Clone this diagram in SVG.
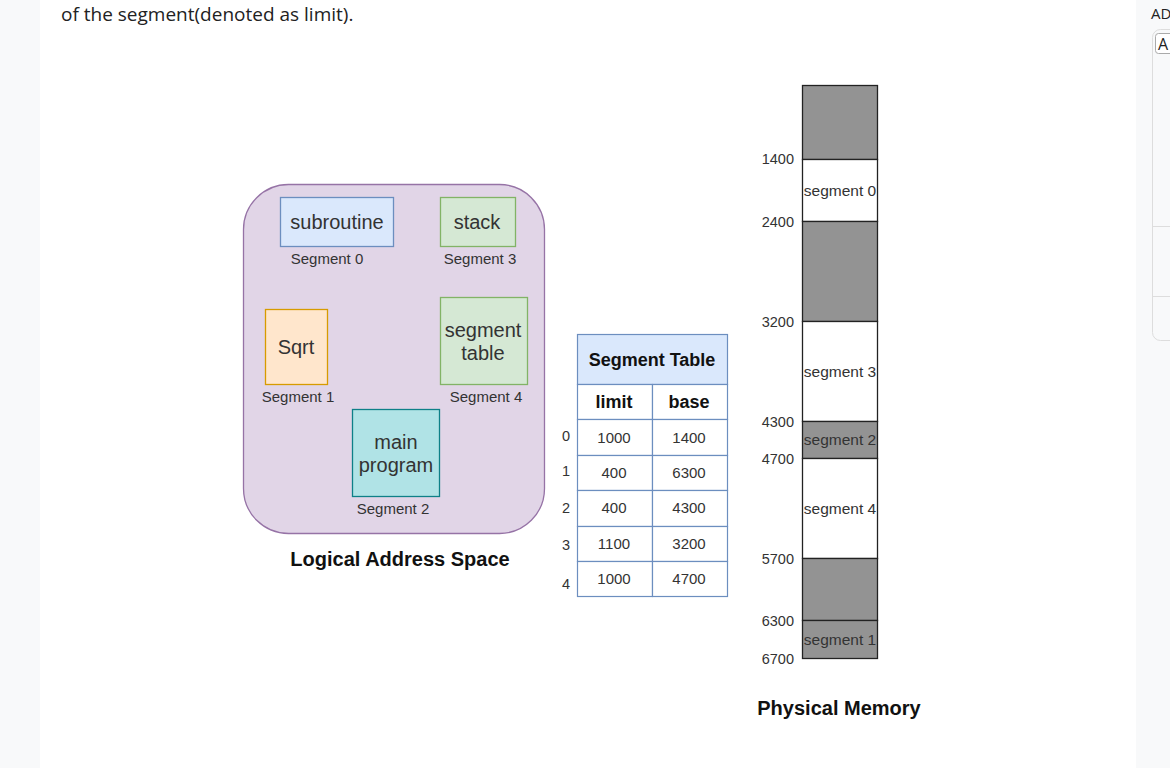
<svg xmlns="http://www.w3.org/2000/svg" width="1170" height="768" viewBox="0 0 1170 768">
<style>
.t{font-family:"Liberation Sans",Arial,sans-serif;fill:#222;}
.lbl{font-size:15px;text-anchor:middle;fill:#333;}
.box{font-size:20px;text-anchor:middle;fill:#333;}
.small{font-size:14.5px;fill:#333;}
.cell{font-size:15px;text-anchor:middle;fill:#333;}
.hdr{font-size:18px;font-weight:bold;text-anchor:middle;fill:#111;}
.big{font-size:20px;}
.mem{stroke:#222;stroke-width:1.3;}
.g{fill:#939393;}
.w{fill:#ffffff;}
.ml{font-size:14.5px;text-anchor:end;fill:#333;}
.mt{font-size:15.5px;text-anchor:middle;fill:#333;}
.tc{fill:#fff;stroke:#6c8ebf;stroke-width:1.2;}
</style>
<rect x="0" y="0" width="1170" height="768" fill="#f8f9fa"/>
<rect x="40" y="0" width="1096" height="768" fill="#ffffff"/>
<text class="t" x="61" y="21" font-size="19" style="font-family:'Open Sans','Noto Sans',sans-serif" fill="#212529">of the segment(denoted as limit).</text>
<text class="t" x="1151" y="19" font-size="15" fill="#999" style="font-family:'Open Sans','Noto Sans',sans-serif">AD</text>
<rect x="1152.5" y="29.5" width="30" height="311" rx="8" fill="#f8f9fa" stroke="#ddd"/>
<line x1="1152" y1="226.5" x2="1170" y2="226.5" stroke="#ddd"/>
<line x1="1152" y1="296.5" x2="1170" y2="296.5" stroke="#ddd"/>
<rect x="1155.5" y="33.5" width="20" height="20" rx="3" fill="#fff" stroke="#aaa"/>
<text x="1158" y="50" font-size="16" font-family="Open Sans, sans-serif" fill="#222">A</text>

<g id="logical">
<rect x="243.5" y="184.5" width="301" height="349" rx="45" fill="#e1d5e7" stroke="#9673a6" stroke-width="1.3"/>
<text class="t hdr big" x="400" y="566">Logical Address Space</text>
</g>
<g id="subroutine">
<rect x="280.5" y="197.5" width="113" height="49" fill="#dae8fc" stroke="#6c8ebf" stroke-width="1.3"/>
<text class="t box" x="337" y="229">subroutine</text>
<text class="t lbl" x="327" y="264">Segment 0</text>
</g>
<g id="stack">
<rect x="440.5" y="197.5" width="75" height="49" fill="#d5e8d4" stroke="#82b366" stroke-width="1.3"/>
<text class="t box" x="477" y="229">stack</text>
<text class="t lbl" x="480" y="264">Segment 3</text>
</g>
<g id="sqrt">
<rect x="265.5" y="309.5" width="62" height="75" fill="#ffe6cc" stroke="#d79b00" stroke-width="1.3"/>
<text class="t box" x="296" y="354">Sqrt</text>
<text class="t lbl" x="298" y="402">Segment 1</text>
</g>
<g id="segtable-seg">
<rect x="440.5" y="297.5" width="87" height="87" fill="#d5e8d4" stroke="#82b366" stroke-width="1.3"/>
<text class="t box" x="483" y="337">segment</text>
<text class="t box" x="483" y="360">table</text>
<text class="t lbl" x="486" y="402">Segment 4</text>
</g>
<g id="main">
<rect x="352.5" y="409.5" width="87" height="87" fill="#b0e3e6" stroke="#0e8088" stroke-width="1.3"/>
<text class="t box" x="396" y="449">main</text>
<text class="t box" x="396" y="472">program</text>
<text class="t lbl" x="393" y="514">Segment 2</text>
</g>

<g id="segment-table">
<rect x="577.5" y="334.5" width="150" height="50" fill="#dae8fc" stroke="#6c8ebf" stroke-width="1.2"/>
<text class="t hdr" x="652" y="366" font-size="17.5">Segment Table</text>
<rect class="tc" x="577.5" y="384.5" width="75" height="35"/>
<rect class="tc" x="652.5" y="384.5" width="75" height="35"/>
<text class="t hdr" x="614" y="408" font-size="17.5">limit</text>
<text class="t hdr" x="689" y="408" font-size="17.5">base</text>
<rect class="tc" x="577.5" y="419.5" width="75" height="36"/><rect class="tc" x="652.5" y="419.5" width="75" height="36"/>
<rect class="tc" x="577.5" y="455.5" width="75" height="35"/><rect class="tc" x="652.5" y="455.5" width="75" height="35"/>
<rect class="tc" x="577.5" y="490.5" width="75" height="36"/><rect class="tc" x="652.5" y="490.5" width="75" height="36"/>
<rect class="tc" x="577.5" y="526.5" width="75" height="35"/><rect class="tc" x="652.5" y="526.5" width="75" height="35"/>
<rect class="tc" x="577.5" y="561.5" width="75" height="35"/><rect class="tc" x="652.5" y="561.5" width="75" height="35"/>
<text class="t cell" x="614" y="443">1000</text><text class="t cell" x="689" y="443">1400</text>
<text class="t cell" x="614" y="478">400</text><text class="t cell" x="689" y="478">6300</text>
<text class="t cell" x="614" y="513">400</text><text class="t cell" x="689" y="513">4300</text>
<text class="t cell" x="614" y="549">1100</text><text class="t cell" x="689" y="549">3200</text>
<text class="t cell" x="614" y="584">1000</text><text class="t cell" x="689" y="584">4700</text>
<text class="t small" x="566" y="441" text-anchor="middle">0</text>
<text class="t small" x="566" y="476" text-anchor="middle">1</text>
<text class="t small" x="566" y="513" text-anchor="middle">2</text>
<text class="t small" x="566" y="550" text-anchor="middle">3</text>
<text class="t small" x="566" y="589" text-anchor="middle">4</text>
</g>

<g id="physical-memory">
<rect class="mem g" x="802.5" y="85.5" width="75" height="74"/>
<rect class="mem w" x="802.5" y="159.5" width="75" height="62"/>
<rect class="mem g" x="802.5" y="221.5" width="75" height="100"/>
<rect class="mem w" x="802.5" y="321.5" width="75" height="100"/>
<rect class="mem g" x="802.5" y="421.5" width="75" height="37"/>
<rect class="mem w" x="802.5" y="458.5" width="75" height="100"/>
<rect class="mem g" x="802.5" y="558.5" width="75" height="62"/>
<rect class="mem g" x="802.5" y="620.5" width="75" height="38"/>
<text class="t mt" x="840" y="196">segment 0</text>
<text class="t mt" x="840" y="377">segment 3</text>
<text class="t mt" x="840" y="445">segment 2</text>
<text class="t mt" x="840" y="514">segment 4</text>
<text class="t mt" x="840" y="645">segment 1</text>
<text class="t ml" x="794" y="164">1400</text>
<text class="t ml" x="794" y="227">2400</text>
<text class="t ml" x="794" y="327">3200</text>
<text class="t ml" x="794" y="427">4300</text>
<text class="t ml" x="794" y="464">4700</text>
<text class="t ml" x="794" y="564">5700</text>
<text class="t ml" x="794" y="626">6300</text>
<text class="t ml" x="794" y="664">6700</text>
<text class="t hdr big" x="839" y="715">Physical Memory</text>
</g>
</svg>
